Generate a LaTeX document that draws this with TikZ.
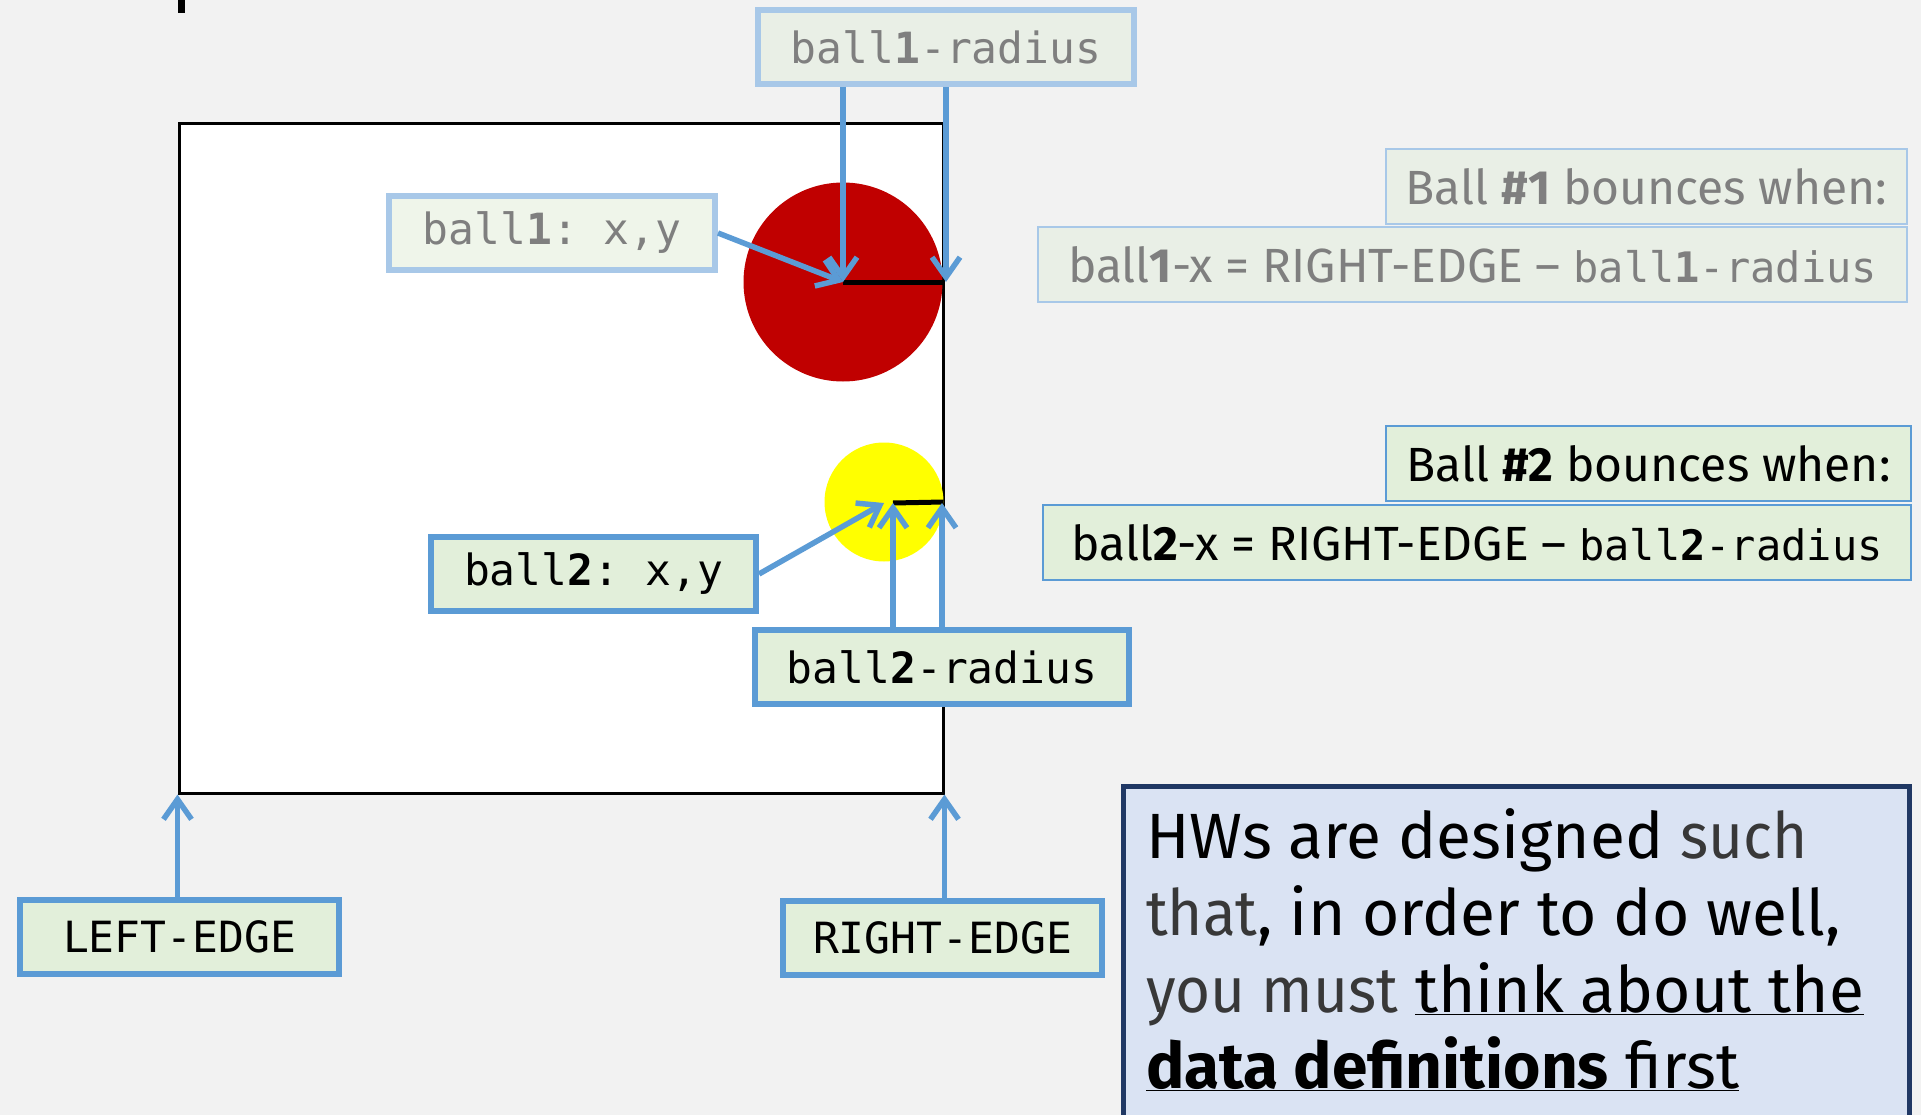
\documentclass[tikz,border=0pt]{standalone}
\usepackage{fontspec}
\setmainfont{Fira Sans}
\setmonofont{DejaVu Sans Mono}
\newfontfamily\firalightface[FakeStretch=0.94]{Fira Sans}
\newcommand{\firalight}{\firalightface\color{black!78}}
\usetikzlibrary{arrows.meta}
\definecolor{bg}{HTML}{F2F2F2}
\definecolor{arrblue}{HTML}{5B9BD5}
\definecolor{fadeblue}{HTML}{A8C8E8}
\definecolor{fadefill}{HTML}{E9EFE6}
\definecolor{fadefillb}{HTML}{EFF5EA}
\definecolor{greenfill}{HTML}{E2EFDA}
\definecolor{graytext}{HTML}{7F7F7F}
\definecolor{ballred}{HTML}{C00000}
\definecolor{ballyellow}{HTML}{FFFF00}
\definecolor{navy}{HTML}{203864}
\definecolor{hwfill}{HTML}{DAE3F3}
\tikzset{
  lblbox/.style={draw=arrblue, fill=greenfill, line width=6pt, inner sep=0pt,
    minimum width=#1, minimum height=74pt,
    font=\ttfamily\fontsize{43}{50}\selectfont},
  fadebox/.style={draw=fadeblue, fill=fadefill, line width=6pt, inner sep=0pt,
    minimum width=#1, minimum height=74pt, text=graytext,
    font=\ttfamily\fontsize{43}{50}\selectfont},
  condbox/.style={draw=arrblue, fill=greenfill, line width=2.5pt, inner sep=0pt,
    minimum width=#1, minimum height=75pt,
    font=\fontsize{48}{58}\selectfont},
  fadecond/.style={draw=fadeblue, fill=fadefill, line width=2.5pt, inner sep=0pt,
    minimum width=#1, minimum height=75pt, text=graytext,
    font=\fontsize{48}{58}\selectfont},
  arr/.style={draw=arrblue, line width=5.5pt, -{Straight Barb[length=20pt,width=28pt]}},
  hwline/.style={anchor=base west, inner sep=0pt, font=\fontsize{64}{77}\selectfont},
}
\newcommand{\mono}[1]{{\ttfamily\fontsize{42}{50}\selectfont #1}}
\begin{document}
\begin{tikzpicture}[x=1pt,y=-1pt]
\fill[bg] (0,0) rectangle (1921,1115);
\useasboundingbox (0,0) rectangle (1921,1115);
\fill[black] (178,0) rectangle (185,13);
% field
\node[draw=black, fill=white, line width=3pt, inner sep=0pt, minimum width=764pt, minimum height=669pt] (field) at (561,458.5) {};
% balls
\node[circle, fill=ballred, inner sep=0pt, minimum size=199pt] (ball1) at (843,282) {};
\node[circle, fill=ballyellow, inner sep=0pt, minimum size=119pt] (ball2) at (884,502) {};
\coordinate (c1) at (843,282);
\coordinate (e1) at (946,282);
\coordinate (c2) at (884,503);
\coordinate (rl2) at (893,503);
\coordinate (e2) at (942,503);
\draw[line width=5pt] (c1) -- (ball1.east);
\draw[line width=5pt] (rl2) -- (ball2.east);
% labels
\node[fadebox=376pt] (r1) at (946,47) {ball\textbf{1}-radius};
\node[fadebox=326pt, fill=fadefillb] (b1xy) at (552,233) {ball\textbf{1}: x,y};
\node[lblbox=325pt] (b2xy) at (593.5,574) {ball\textbf{2}: x,y};
\node[lblbox=374pt] (r2) at (942,667) {ball\textbf{2}-radius};
\node[lblbox=319pt] (ledge) at (179.5,936.5) {LEFT-EDGE};
\node[lblbox=319pt] (redge) at (942.5,938) {RIGHT-EDGE};
% conditions
\node[fadecond=521pt] (cond1a) at (1646.5,186.5) {Ball \textbf{\#1} bounces when:};
\node[fadecond=869pt] (cond1b) at (1472.5,264.5) {ball\textbf{1}-x = RIGHT-EDGE – \mono{ball\textbf{1}-radius}};
\node[condbox=525pt] (cond2a) at (1648.5,463.5) {Ball \textbf{\#2} bounces when:};
\node[condbox=868pt] (cond2b) at (1477,542.5) {ball\textbf{2}-x = RIGHT-EDGE – \mono{ball\textbf{2}-radius}};
% arrows
\draw[arr] (c1 |- r1.south) -- (c1);
\draw[arr] (e1 |- r1.south) -- (e1);
\draw[arr] (b1xy.east) -- (c1);
\draw[arr] (b2xy.east) -- (c2);
\draw[arr] (rl2 |- r2.north) -- (rl2);
\draw[arr] (e2 |- r2.north) -- (e2);
\draw[arr] (field.south west |- ledge.north) -- (field.south west);
\draw[arr] (field.south east |- redge.north) -- (field.south east);
% HW note
\draw[draw=navy, fill=hwfill, line width=5pt] (1123,786) rectangle (1909,1140);
\node[hwline] (hw1) at (1146,858) {HWs are designed {\firalight such}};
\node[hwline] (hw2) at (1146,935) {{\firalight that}, in order to do well,};
\node[hwline] (hw3) at (1146,1012) {{\firalight you must} \underline{think about the}};
\node[hwline] (hw4) at (1146,1088) {\underline{\textbf{data definitions} first}};
\end{tikzpicture}
\end{document}
